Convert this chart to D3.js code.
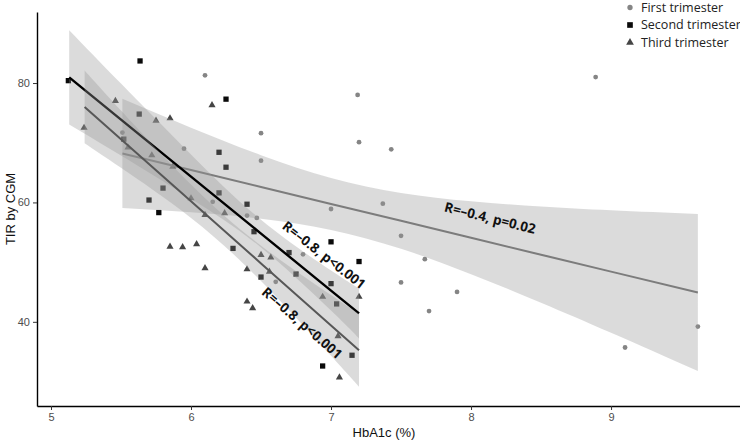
<!DOCTYPE html>
<html><head><meta charset="utf-8">
<script src="https://cdn.jsdelivr.net/npm/d3@7"></script>
<style>body{margin:0;background:#fff}svg{display:block}</style>
</head><body><svg id="c" width="740" height="441"></svg>
<script>
// ---------- data ----------
const seriesNames = ["First trimester", "Second trimester", "Third trimester"];

const firstHbA1c = [5.51, 5.95, 6.10, 6.155, 6.40, 6.47, 6.50, 6.50, 6.605, 6.80, 7.00, 7.19, 7.20, 7.37, 7.43, 7.50, 7.50, 7.67, 7.70, 7.90, 8.89, 9.10, 9.62];
const firstTIR   = [71.7, 69.0, 81.3, 60.1, 57.8, 57.4, 71.6, 67.0, 46.7, 51.3, 58.9, 78.0, 70.1, 59.8, 68.9, 54.4, 46.6, 50.5, 41.8, 45.0, 81.0, 35.7, 39.2];

const secondHbA1c = [5.124, 5.52, 5.63, 5.636, 5.70, 5.77, 5.80, 6.20, 6.20, 6.25, 6.25, 6.30, 6.40, 6.45, 6.50, 6.70, 6.75, 6.94, 7.00, 7.00, 7.04, 7.15, 7.20];
const secondTIR   = [80.4, 70.6, 74.8, 83.7, 60.4, 58.3, 62.4, 68.4, 61.6, 77.3, 65.9, 52.3, 59.7, 55.1, 47.5, 51.6, 48.0, 32.6, 53.4, 46.4, 43.0, 34.4, 50.1];

const thirdHbA1c = [5.236, 5.46, 5.55, 5.72, 5.75, 5.85, 5.85, 5.87, 5.94, 6.00, 6.04, 6.10, 6.10, 6.15, 6.24, 6.40, 6.40, 6.44, 6.50, 6.56, 6.57, 6.94, 7.05, 7.06, 7.20];
const thirdTIR   = [72.5, 77.0, 69.2, 67.9, 73.7, 74.1, 52.6, 66.0, 52.5, 60.7, 53.0, 57.9, 49.0, 76.3, 58.2, 48.8, 43.4, 42.3, 51.2, 48.4, 50.8, 44.2, 37.6, 30.7, 44.2];

// fitted line and confidence band
const firstFitX  = [5.51, 6.0, 6.5, 7.0, 7.5, 8.0, 8.5, 9.0, 9.62];
const firstFit   = [68.2, 65.42, 62.59, 59.75, 56.92, 54.08, 51.25, 48.41, 44.9];
const firstLo    = [59.05, 58.34, 57.27, 55.40, 52.24, 47.98, 43.19, 38.15, 31.75];
const firstHi    = [77.35, 72.50, 67.91, 64.10, 61.60, 60.18, 59.31, 58.67, 58.05];

const secondFitX = [5.13, 5.5, 6.0, 6.5, 7.0, 7.2];
const secondFit  = [80.95, 73.88, 64.33, 54.78, 45.23, 41.41];
const secondLo   = [73.05, 67.85, 60.62, 52.46, 41.88, 37.22];
const secondHi   = [88.85, 79.91, 68.04, 57.10, 48.58, 45.60];

const thirdFitX  = [5.24, 5.5, 6.0, 6.5, 7.0, 7.2];
const thirdFit   = [76.0, 70.59, 60.19, 49.79, 39.39, 35.23];
const thirdLo    = [69.9, 65.79, 57.39, 46.83, 34.30, 29.13];
const thirdHi    = [82.1, 75.39, 62.99, 52.75, 44.48, 41.33];

const xTicks = [5, 6, 7, 8, 9];
const yTicks = [40, 60, 80];
const annotations = ["R=\u20130.4, p=0.02", "R=\u20130.8, p<0.001", "R=\u20130.8, p<0.001"];

// ---------- chart ----------
const svg = d3.select("#c");
const x = d3.scaleLinear().domain([4.9, 9.921]).range([37, 740]);
const y = d3.scaleLinear().domain([25.9, 91.9]).range([406, 12]);

const groups = [
  {xs: firstHbA1c, ys: firstTIR, fx: firstFitX, f: firstFit, lo: firstLo, hi: firstHi,
   shape: d3.symbolCircle, size: 18, pt: "#858585", line: "#7c7c7c", lw: 2},
  {xs: secondHbA1c, ys: secondTIR, fx: secondFitX, f: secondFit, lo: secondLo, hi: secondHi,
   shape: d3.symbolSquare, size: 28, pt: "#0a0a0a", line: "#000000", lw: 2.4},
  {xs: thirdHbA1c, ys: thirdTIR, fx: thirdFitX, f: thirdFit, lo: thirdLo, hi: thirdHi,
   shape: d3.symbolTriangle, size: 22, pt: "#454545", line: "#575757", lw: 2}
];

// points
groups.forEach(g => {
  svg.append("g").selectAll("path").data(g.xs.map((v, i) => [v, g.ys[i]])).join("path")
    .attr("d", d3.symbol().type(g.shape).size(g.size))
    .attr("transform", d => `translate(${x(d[0])},${y(d[1])})`)
    .attr("fill", g.pt);
});

// smooths: ribbon then line, per group
groups.forEach(g => {
  const rows = g.fx.map((v, i) => ({x: v, f: g.f[i], lo: g.lo[i], hi: g.hi[i]}));
  svg.append("path").datum(rows)
    .attr("d", d3.area().x(d => x(d.x)).y0(d => y(d.lo)).y1(d => y(d.hi)).curve(d3.curveNatural))
    .attr("fill", "#999999").attr("fill-opacity", 0.35);
  svg.append("path").datum(rows)
    .attr("d", d3.line().x(d => x(d.x)).y(d => y(d.f)))
    .attr("fill", "none").attr("stroke", g.line).attr("stroke-width", g.lw);
});

// axes
const xAxis = svg.append("g").attr("transform", "translate(0,406)")
  .call(d3.axisBottom(x).tickValues(xTicks).tickFormat(d3.format("d")).tickSize(4).tickSizeOuter(0).tickPadding(3));
const yAxis = svg.append("g").attr("transform", "translate(37,0)")
  .call(d3.axisLeft(y).tickValues(yTicks).tickFormat(d3.format("d")).tickSize(4).tickSizeOuter(0).tickPadding(3));
[xAxis, yAxis].forEach(a => {
  a.select(".domain").attr("stroke", "#000").attr("stroke-width", 1.4);
  a.selectAll(".tick line").attr("stroke", "#333").attr("stroke-width", 1);
  a.selectAll(".tick text").attr("fill", "#4d4d4d").style("font-family", "'Liberation Sans', Arial, sans-serif").style("font-size", "11px");
});

svg.append("text").attr("x", 384).attr("y", 437).attr("text-anchor", "middle")
  .style("font-family", "'Liberation Sans', Arial, sans-serif").style("font-size", "13px").attr("fill", "#111")
  .text("HbA1c (%)");
svg.append("text").attr("transform", "translate(15,209) rotate(-90)").attr("text-anchor", "middle")
  .style("font-family", "'Liberation Sans', Arial, sans-serif").style("font-size", "13px").attr("fill", "#111")
  .text("TIR by CGM");

// annotations
const annPos = [[490, 218, 14], [324, 255, 38], [302, 323, 41]];
annotations.forEach((t, i) => {
  svg.append("text").attr("transform", `translate(${annPos[i][0]},${annPos[i][1]}) rotate(${annPos[i][2]})`)
    .attr("text-anchor", "middle").attr("dy", "0.35em")
    .style("font-family", "'Open Sans', sans-serif").style("font-size", "13.5px").style("font-weight", "bold")
    .attr("fill", "#111").text(t);
});

// legend
const legend = svg.append("g").attr("transform", "translate(630,7.5)");
groups.forEach((g, i) => {
  const row = legend.append("g").attr("transform", `translate(0,${i * 17.5})`);
  row.append("path").attr("d", d3.symbol().type(g.shape).size(g.size + 4)).attr("fill", g.pt);
  row.append("text").attr("x", 11).attr("dy", "0.35em")
    .style("font-family", "'Open Sans', sans-serif").style("font-size", "12.5px").attr("fill", "#222")
    .text(seriesNames[i]);
});
</script>
</body></html>
